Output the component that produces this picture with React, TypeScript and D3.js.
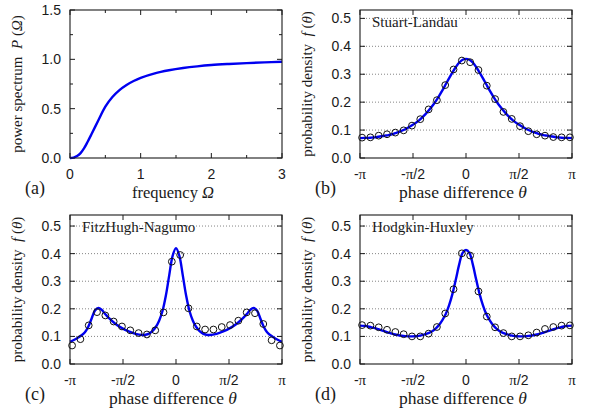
import React from 'react';
import * as d3 from 'd3';

// ---------- data ----------
const omega = [0, 0.05, 0.1, 0.15, 0.2, 0.25, 0.3, 0.4, 0.5, 0.6, 0.7, 0.8, 0.9, 1.0, 1.2, 1.4, 1.6, 1.8, 2.0, 2.25, 2.5, 2.75, 3.0];
const power = [0, 0.004, 0.02, 0.05, 0.1, 0.165, 0.235, 0.38, 0.52, 0.618, 0.688, 0.74, 0.78, 0.812, 0.858, 0.889, 0.912, 0.929, 0.942, 0.953, 0.962, 0.969, 0.975];

const PI = Math.PI;
const curveTheta = [
  -PI, -3.0, -2.9, -2.8, -2.7, -2.6, -2.5, -2.4, -2.3, -2.2, -2.1, -2.0, -1.8, -1.6, -1.4, -1.2, -1.0, -0.9, -0.8, -0.7, -0.6, -0.5, -0.4, -0.3, -0.2, -0.1,
  0,
  0.1, 0.2, 0.3, 0.4, 0.5, 0.6, 0.7, 0.8, 0.9, 1.0, 1.2, 1.4, 1.6, 1.8, 2.0, 2.1, 2.2, 2.3, 2.4, 2.5, 2.6, 2.7, 2.8, 2.9, 3.0, PI,
];

const slCurve = [
  0.071, 0.072, 0.072, 0.073, 0.074, 0.076, 0.078, 0.080, 0.082, 0.085, 0.089, 0.093, 0.103, 0.117, 0.134, 0.157, 0.186, 0.203, 0.222, 0.242, 0.264, 0.286, 0.307, 0.326, 0.342, 0.352,
  0.355,
  0.352, 0.342, 0.326, 0.307, 0.286, 0.264, 0.242, 0.222, 0.203, 0.186, 0.157, 0.134, 0.117, 0.103, 0.093, 0.089, 0.085, 0.082, 0.080, 0.078, 0.076, 0.074, 0.073, 0.072, 0.072, 0.071,
];

const fhnCurve = [
  0.080, 0.089, 0.096, 0.104, 0.115, 0.135, 0.165, 0.194, 0.203, 0.196, 0.181, 0.168, 0.146, 0.130, 0.118, 0.109, 0.105, 0.106, 0.110, 0.119, 0.134, 0.157, 0.192, 0.248, 0.322, 0.392,
  0.420,
  0.392, 0.322, 0.248, 0.192, 0.157, 0.134, 0.119, 0.110, 0.106, 0.105, 0.109, 0.118, 0.130, 0.146, 0.168, 0.181, 0.196, 0.203, 0.194, 0.165, 0.135, 0.115, 0.104, 0.096, 0.089, 0.080,
];

const hhCurve = [
  0.139, 0.138, 0.136, 0.133, 0.130, 0.126, 0.122, 0.118, 0.114, 0.110, 0.107, 0.104, 0.101, 0.100, 0.102, 0.108, 0.119, 0.128, 0.141, 0.159, 0.181, 0.213, 0.255, 0.307, 0.362, 0.403,
  0.413,
  0.403, 0.362, 0.307, 0.255, 0.213, 0.181, 0.159, 0.141, 0.128, 0.119, 0.108, 0.102, 0.100, 0.101, 0.104, 0.107, 0.110, 0.114, 0.118, 0.122, 0.126, 0.130, 0.133, 0.136, 0.138, 0.139,
];

const slPoints = [0.073, 0.074, 0.080, 0.085, 0.091, 0.099, 0.116, 0.139, 0.174, 0.207, 0.261, 0.317, 0.349, 0.343, 0.315, 0.259, 0.211, 0.165, 0.140, 0.114, 0.096, 0.085, 0.080, 0.075, 0.074, 0.074];
const fhnPoints = [0.067, 0.090, 0.140, 0.188, 0.176, 0.154, 0.136, 0.122, 0.112, 0.107, 0.122, 0.187, 0.371, 0.395, 0.202, 0.136, 0.125, 0.125, 0.134, 0.141, 0.157, 0.187, 0.184, 0.145, 0.086, 0.067];
const hhPoints = [0.141, 0.139, 0.133, 0.124, 0.116, 0.108, 0.100, 0.100, 0.110, 0.134, 0.183, 0.271, 0.401, 0.393, 0.263, 0.172, 0.133, 0.112, 0.100, 0.100, 0.104, 0.114, 0.127, 0.134, 0.139, 0.140];

const binCount = 26;
const phaseStep = (2 * PI) / 25.5;
const pointTheta = d3.range(binCount).map((k) => (k - (binCount - 1) / 2) * phaseStep);

const powerXTicks = [0, 1, 2, 3];
const powerXMinor = [0.5, 1.5, 2.5];
const powerYTicks = [0, 0.5, 1.0, 1.5];
const powerYMinor = [0.25, 0.75, 1.25];
const phaseTicks = [-PI, -PI / 2, 0, PI / 2, PI];
const phaseTickLabels = ['-π', '-π/2', '0', 'π/2', 'π'];
const densityTicks = [0, 0.1, 0.2, 0.3, 0.4, 0.5];

// ---------- styles ----------
const SANS = "'Liberation Sans', Arial, Helvetica, sans-serif";
const SERIF = "'Liberation Serif', 'Times New Roman', Times, serif";
const BLUE = '#0000f0';
const INK = '#1a1a1a';

function PiLabel({ label }: { label: string }) {
  const parts = label.split('π');
  const out: React.ReactNode[] = [];
  parts.forEach((p, i) => {
    if (p) out.push(<tspan key={'t' + i} style={{ fontFamily: SANS }}>{p}</tspan>);
    if (i < parts.length - 1)
      out.push(
        <tspan key={'p' + i} style={{ fontFamily: SERIF, fontSize: 15 }}>
          π
        </tspan>
      );
  });
  return <>{out}</>;
}

type PanelProps = {
  left: number; top: number; width: number; height: number;
  xDomain: [number, number]; yDomain: [number, number];
  xTicks: number[]; xLabels: string[]; xMinor?: number[];
  yTicks: number[]; yLabels: string[]; yMinor?: number[];
  grid?: boolean;
  curveX: number[]; curveY: number[];
  pointsX?: number[]; pointsY?: number[];
  yTitle: React.ReactNode; xTitle: React.ReactNode; xTitleSize: number;
  tag: string; name?: string;
};

const sansStyle = { fontFamily: SANS, fontSize: 14 };
const serifStyle = (size: number) => ({ fontFamily: SERIF, fontSize: size });

function Panel(p: PanelProps) {
  const x = d3.scaleLinear().domain(p.xDomain).range([p.left, p.left + p.width]);
  const y = d3.scaleLinear().domain(p.yDomain).range([p.top + p.height, p.top]);
  const x0 = p.left, x1 = p.left + p.width, y0 = p.top + p.height, y1 = p.top;
  const line = d3
    .line<number>()
    .x((_, i) => x(p.curveX[i]))
    .y((d) => y(d))
    .curve(d3.curveCatmullRom.alpha(0.5));
  const TL = 5, TM = 3;
  return (
    <g>
      {p.grid &&
        p.yTicks.filter((t) => t > 0).map((t) => (
          <line key={'g' + t} x1={x0} x2={x1} y1={y(t)} y2={y(t)} stroke="#666" strokeWidth={0.8} strokeDasharray="1 2" />
        ))}
      {p.xTicks.map((t) => (
        <g key={'xt' + t} stroke={INK} strokeWidth={1}>
          <line x1={x(t)} x2={x(t)} y1={y0} y2={y0 - TL} />
          <line x1={x(t)} x2={x(t)} y1={y1} y2={y1 + TL} />
        </g>
      ))}
      {(p.xMinor || []).map((t) => (
        <g key={'xm' + t} stroke={INK} strokeWidth={1}>
          <line x1={x(t)} x2={x(t)} y1={y0} y2={y0 - TM} />
          <line x1={x(t)} x2={x(t)} y1={y1} y2={y1 + TM} />
        </g>
      ))}
      {p.yTicks.map((t) => (
        <g key={'yt' + t} stroke={INK} strokeWidth={1}>
          <line x1={x0} x2={x0 + TL} y1={y(t)} y2={y(t)} />
          <line x1={x1} x2={x1 - TL} y1={y(t)} y2={y(t)} />
        </g>
      ))}
      {(p.yMinor || []).map((t) => (
        <g key={'ym' + t} stroke={INK} strokeWidth={1}>
          <line x1={x0} x2={x0 + TM} y1={y(t)} y2={y(t)} />
          <line x1={x1} x2={x1 - TM} y1={y(t)} y2={y(t)} />
        </g>
      ))}
      <path d={line(p.curveY) || ''} fill="none" stroke={BLUE} strokeWidth={2.4} />
      {p.pointsX &&
        p.pointsY &&
        p.pointsY.map((v, i) => (
          <circle key={'c' + i} cx={x(p.pointsX![i])} cy={y(v)} r={3.4} fill="none" stroke="#111" strokeWidth={1} />
        ))}
      <rect x={x0} y={y1} width={p.width} height={p.height} fill="none" stroke={INK} strokeWidth={1.1} />
      {p.xTicks.map((t, i) => (
        <text key={'xl' + t} x={x(t)} y={y0 + 21} textAnchor="middle" style={sansStyle} fill={INK}>
          <PiLabel label={p.xLabels[i]} />
        </text>
      ))}
      {p.yTicks.map((t, i) => (
        <text key={'yl' + t} x={x0 - 9} y={y(t)} dy="0.36em" textAnchor="end" style={sansStyle} fill={INK}>
          {p.yLabels[i]}
        </text>
      ))}
      <text transform={`translate(${p.left - 48},${p.top + p.height / 2}) rotate(-90)`} textAnchor="middle" style={serifStyle(15)} fill={INK}>
        {p.yTitle}
      </text>
      <text x={p.left + p.width / 2 - 3} y={y0 + 40} textAnchor="middle" style={serifStyle(p.xTitleSize)} fill={INK}>
        {p.xTitle}
      </text>
      <text x={p.left - 45} y={y0 + 36} style={serifStyle(18)} fill={INK}>
        {p.tag}
      </text>
      {p.name && (
        <text x={p.left + 12} y={p.top + 17} style={serifStyle(15)} fill={INK}>
          {p.name}
        </text>
      )}
    </g>
  );
}

const densityTitle = (
  <>
    probability density{'\u00a0\u00a0'}
    <tspan fontStyle="italic">f</tspan>
    {'\u00a0'}(<tspan fontStyle="italic">θ</tspan>)
  </>
);
const phaseTitle = (
  <>
    phase difference{'\u00a0'}<tspan fontStyle="italic">θ</tspan>
  </>
);

export default function App() {
  const fmt1 = (v: number) => v.toFixed(1);
  const common = {
    width: 212,
    xDomain: [-PI, PI] as [number, number],
    xTicks: phaseTicks,
    xLabels: phaseTickLabels,
    yTicks: densityTicks,
    yLabels: densityTicks.map(fmt1),
    grid: true,
    curveX: curveTheta,
    pointsX: pointTheta,
    yTitle: densityTitle,
    xTitle: phaseTitle,
    xTitleSize: 17.5,
  };
  return (
    <svg width={590} height={414} style={{ position: 'absolute', left: 0, top: 0, background: '#fff' }}>
      <rect width={590} height={414} fill="#fff" />
      <Panel
        left={70}
        top={10}
        width={212}
        height={148}
        xDomain={[0, 3]}
        yDomain={[0, 1.5]}
        xTicks={powerXTicks}
        xLabels={powerXTicks.map(String)}
        xMinor={powerXMinor}
        yTicks={powerYTicks}
        yLabels={powerYTicks.map(fmt1)}
        yMinor={powerYMinor}
        curveX={omega}
        curveY={power}
        yTitle={
          <>
            power spectrum{'\u00a0\u00a0'}
            <tspan fontStyle="italic">P</tspan>
            {'\u00a0'}(<tspan fontStyle="italic">Ω</tspan>)
          </>
        }
        xTitle={
          <>
            frequency <tspan fontStyle="italic">Ω</tspan>
          </>
        }
        xTitleSize={16.5}
        tag="(a)"
      />
      <Panel {...common} left={360} top={10} height={148} yDomain={[0, 0.53]} curveY={slCurve} pointsY={slPoints} tag="(b)" name="Stuart-Landau" />
      <Panel {...common} left={70} top={215} height={149} yDomain={[0, 0.54]} curveY={fhnCurve} pointsY={fhnPoints} tag="(c)" name="FitzHugh-Nagumo" />
      <Panel {...common} left={360} top={215} height={149} yDomain={[0, 0.54]} curveY={hhCurve} pointsY={hhPoints} tag="(d)" name="Hodgkin-Huxley" />
    </svg>
  );
}
